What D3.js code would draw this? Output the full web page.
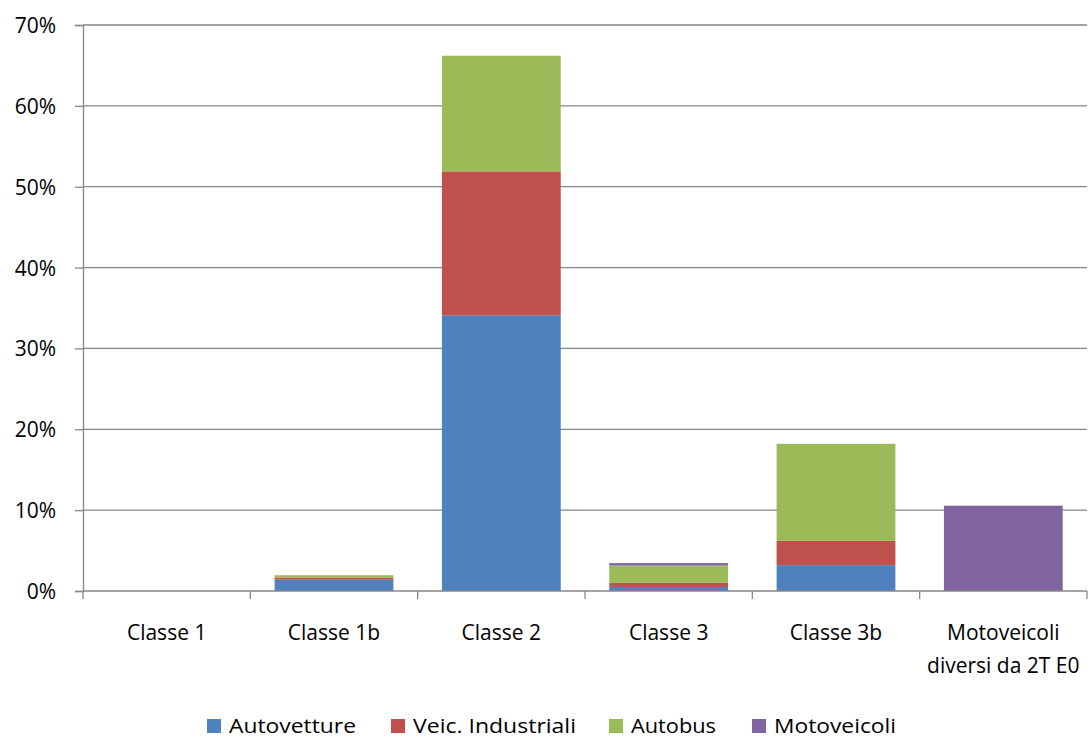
<!DOCTYPE html>
<html>
<head>
<meta charset="utf-8">
<script src="https://cdn.jsdelivr.net/npm/d3@7"></script>
<style>
  body { margin: 0; background: #fff; }
  svg text { font-family: "Open Sans", Lato, sans-serif; fill: #000; }
</style>
</head>
<body>
<svg id="chart" width="1088" height="740"></svg>
<script>
// Categories (two-line labels split with "\n")
const categories = ["Classe 1", "Classe 1b", "Classe 2", "Classe 3", "Classe 3b", "Motoveicoli\ndiversi da 2T E0"];
// Series shares, in percent
const autovetture   = [0, 1.4, 34.1, 0.5, 3.2, 0];
const veicIndustr   = [0, 0.25, 17.8, 0.5, 3.0, 0];
const autobus       = [0, 0.3, 14.3, 2.15, 12.0, 0];
const motoveicoli   = [0, 0, 0, 0.3, 0, 10.55];
const seriesNames   = ["Autovetture", "Veic. Industriali", "Autobus", "Motoveicoli"];
const seriesColors  = ["#4f81bd", "#c0504d", "#9bbb59", "#8064a2"];
const yTicks        = [0, 10, 20, 30, 40, 50, 60, 70];

const svg = d3.select("#chart");
const m = { left: 83, right: 1087, top: 25, bottom: 591 };

const x = d3.scaleBand().domain(categories).range([m.left, m.right]).paddingInner(0.29).paddingOuter(0.145);
const y = d3.scaleLinear().domain([0, 70]).range([m.bottom, m.top]);

// Horizontal gridlines
svg.append("g").selectAll("line").data(yTicks.slice(1)).join("line")
  .attr("x1", m.left).attr("x2", m.right)
  .attr("y1", d => y(d)).attr("y2", d => y(d))
  .attr("stroke", "#868686").attr("stroke-width", 1.3);

// Stacked bars
const rows = categories.map((c, i) => ({
  cat: c,
  "Autovetture": autovetture[i],
  "Veic. Industriali": veicIndustr[i],
  "Autobus": autobus[i],
  "Motoveicoli": motoveicoli[i]
}));
const stack = d3.stack().keys(seriesNames)(rows);
svg.append("g").selectAll("g").data(stack).join("g")
  .attr("fill", (d, i) => seriesColors[i])
  .selectAll("rect").data(d => d.filter(p => p[1] - p[0] > 0)).join("rect")
  .attr("x", d => x(d.data.cat))
  .attr("width", x.bandwidth())
  .attr("y", d => y(d[1]))
  .attr("height", d => y(d[0]) - y(d[1]));

// Y axis
const yAxis = d3.axisLeft(y).tickValues(yTicks).tickFormat(d => d + "%").tickSize(8).tickPadding(19);
const gy = svg.append("g").attr("transform", `translate(${m.left},0)`).call(yAxis);
gy.select(".domain").attr("stroke", "#868686").attr("stroke-width", 1.3);
gy.selectAll(".tick line").attr("stroke", "#868686").attr("stroke-width", 1.3);
gy.selectAll(".tick text").attr("font-size", 21).attr("font-family", "'Open Sans', Lato, sans-serif")
  .attr("dy", "0.36em");

// X axis baseline and category boundary ticks
const step = (m.right - m.left) / categories.length;
svg.append("line").attr("x1", m.left).attr("x2", m.right).attr("y1", m.bottom).attr("y2", m.bottom)
  .attr("stroke", "#868686").attr("stroke-width", 1.3);
svg.append("g").selectAll("line").data(d3.range(categories.length + 1)).join("line")
  .attr("x1", i => m.left + i * step).attr("x2", i => m.left + i * step)
  .attr("y1", m.bottom).attr("y2", m.bottom + 8)
  .attr("stroke", "#868686").attr("stroke-width", 1.3);

// Category labels
svg.append("g").selectAll("text").data(categories).join("text")
  .attr("x", d => x(d) + x.bandwidth() / 2)
  .attr("y", 640)
  .attr("text-anchor", "middle")
  .attr("font-size", 21)
  .each(function(d) {
    const lines = d.split("\n");
    d3.select(this).selectAll("tspan").data(lines).join("tspan")
      .attr("x", x(d) + x.bandwidth() / 2)
      .attr("dy", (l, i) => i === 0 ? 0 : 33)
      .text(l => l);
  });

// Legend
const legendX = [207, 391, 609, 752];
const legendW = [127, 163, 85, 122];
const lg = svg.append("g").selectAll("g").data(seriesNames).join("g")
  .attr("transform", (d, i) => `translate(${legendX[i]},719)`);
lg.append("rect").attr("width", 14).attr("height", 14).attr("fill", (d, i) => seriesColors[i]);
lg.append("text").attr("x", 22).attr("y", 14).attr("font-size", 20)
  .attr("textLength", (d, i) => legendW[i]).attr("lengthAdjust", "spacingAndGlyphs")
  .text(d => d);
</script>
</body>
</html>
